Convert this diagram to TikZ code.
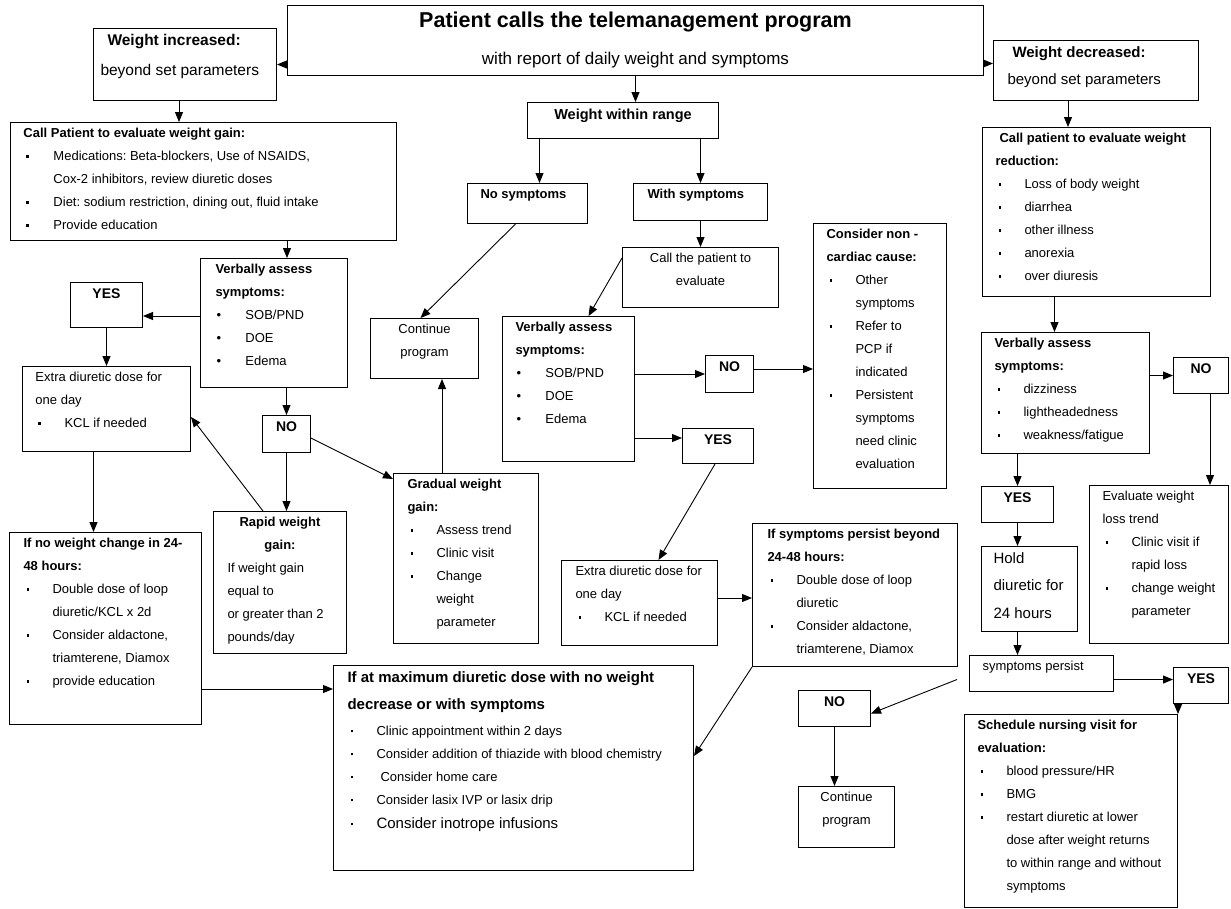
\documentclass[tikz,border=0pt]{standalone}
\usepackage{fontspec}
\setmainfont{Liberation Sans}
\usepackage{tikz}
\usetikzlibrary{arrows.meta}

\newcommand{\bul}[1][29pt]{\par\noindent\hangindent=#1\hangafter=1%
  \hbox to #1{\hskip3pt\raisebox{3.2pt}{\rule{2.6pt}{2.6pt}}\hss}\ignorespaces}
\newcommand{\rbul}[1][30pt]{\par\noindent\hangindent=#1\hangafter=1%
  \hbox to #1{\hskip1pt\textbullet\hss}\ignorespaces}
\newcommand{\yn}{\centering\fontsize{14}{23}\selectfont\bfseries}

\begin{document}
\begin{tikzpicture}[x=1pt, y=-1pt,
  box/.style 2 args={draw, line width=1pt, anchor=north west, inner sep=0pt,
    execute at begin node={\begin{minipage}[t][#2pt][t]{#1pt}%
      \raggedright\frenchspacing\leftskip=13pt\fontsize{13}{23}\selectfont\vskip6pt},
    execute at end node={\endgraf\end{minipage}}},
  arr/.style={-{Triangle[length=10pt,width=8pt]}, line width=0.9pt}
]
\useasboundingbox (0,0) rectangle (1231,908);

\node[box={696}{70}] (call) at (287,5) {\centering
  {\fontsize{21.5}{26}\selectfont\bfseries Patient calls the telemanagement program\endgraf}
  {\fontsize{17}{37.5}\selectfont with report of daily weight and symptoms\endgraf}};
\node[box={183}{72}] (incr) at (93,28) {\leftskip=7pt\fontsize{15.5}{30}\selectfont
  \hspace*{7pt}\textbf{Weight increased:}\newline beyond set parameters\endgraf};
\node[box={205}{60}] (decr) at (993,40) {\leftskip=14pt\fontsize{15}{27}\selectfont
  \hspace*{5pt}\textbf{Weight decreased:}\newline beyond set parameters\endgraf};
\node[box={191}{36}] (inrange) at (527,102) {\centering\fontsize{14.5}{23}\selectfont
  \bfseries Weight within range\endgraf};
\node[box={120}{40}] (nosym) at (467,183) {\textbf{No symptoms}};
\node[box={134}{37}] (withsym) at (633,183) {\leftskip=14pt\textbf{With symptoms}\endgraf};
\node[box={156}{60}] (calleval) at (622,247) {\centering
  Call the patient to\\ evaluate\endgraf};

\node[box={386}{118}] (gaineval) at (10,122) {%
  \textbf{Call Patient to evaluate weight gain:}
  \bul[30pt] Medications: Beta-blockers, Use of NSAIDS,\newline Cox-2 inhibitors, review diuretic doses
  \bul[30pt] Diet: sodium restriction, dining out, fluid intake
  \bul[30pt] Provide education\endgraf};
\node[box={228}{169}] (redeval) at (982,127) {%
  \textbf{\hspace*{4pt}Call patient to evaluate weight\newline reduction:}
  \bul Loss of body weight
  \bul diarrhea
  \bul other illness
  \bul anorexia
  \bul over diuresis\endgraf};

\node[box={147}{129}] (verbL) at (200,258) {\leftskip=15pt
  \textbf{Verbally assess\newline symptoms:}
  \rbul SOB/PND
  \rbul DOE
  \rbul Edema\endgraf};
\node[box={72}{45}] (yesL) at (70,282) {\yn YES\endgraf};
\node[box={168}{85}] (extraL) at (22,366) {%
  Extra diuretic dose for\newline one day
  \bul KCL if needed\endgraf};
\node[box={48}{37}] (noL) at (262,415) {\yn NO\endgraf};
\node[box={108}{60}] (contA) at (370,318) {\centering Continue\\ program\endgraf};
\node[box={145}{170}] (gradual) at (393,473) {\leftskip=14pt
  \textbf{Gradual weight\newline gain:}
  \bul Assess trend
  \bul Clinic visit
  \bul Change\newline weight\newline parameter\endgraf};
\node[box={133}{142}] (rapid) at (213,511) {%
  {\centering\bfseries Rapid weight\\ gain:\endgraf}
  \leftskip=14pt If weight gain\newline equal to\newline or greater than 2\newline pounds/day\endgraf};
\node[box={192}{192}] (nochange) at (9,532) {\leftskip=14pt
  \textbf{If no weight change in 24-\newline 48 hours:}
  \bul Double dose of loop\newline diuretic/KCL x 2d
  \bul Consider aldactone,\newline triamterene, Diamox
  \bul provide education\endgraf};
\node[box={360}{205}] (maxdose) at (333,665) {\leftskip=14pt
  {\fontsize{15}{27}\selectfont\bfseries If at maximum diuretic dose with no weight\newline
   decrease or with symptoms\endgraf}
  \vskip3pt
  \bul Clinic appointment within 2 days
  \bul Consider addition of thiazide with blood chemistry
  \bul \hspace*{4pt}Consider home care
  \bul Consider lasix IVP or lasix drip\endgraf
  {\fontsize{15}{24}\selectfont\bul Consider inotrope infusions\endgraf}};

\node[box={132}{145}] (verbC) at (502,316) {%
  \textbf{Verbally assess\newline symptoms:}
  \rbul SOB/PND
  \rbul DOE
  \rbul Edema\endgraf};
\node[box={48}{37}] (noC) at (705,355) {\yn NO\endgraf};
\node[box={71}{35}] (yesC) at (682,428) {\yn YES\endgraf};
\node[box={133}{265}] (noncard) at (813,223) {%
  \textbf{Consider non -\newline cardiac cause:}
  \bul Other\newline symptoms
  \bul Refer to\newline PCP if\newline indicated
  \bul Persistent\newline symptoms\newline need clinic\newline evaluation\endgraf};
\node[box={156}{85}] (extraC) at (561,560) {\leftskip=14pt
  Extra diuretic dose for\newline one day
  \bul KCL if needed\endgraf};
\node[box={205}{143}] (persist) at (752,523) {\leftskip=15pt
  \textbf{If symptoms persist beyond\newline 24-48 hours:}
  \bul Double dose of loop\newline diuretic
  \bul Consider aldactone,\newline triamterene, Diamox\endgraf};
\node[box={72}{36}] (noB) at (798,690) {\yn NO\endgraf};
\node[box={96}{61}] (contB) at (798,786) {\centering Continue\\ program\endgraf};

\node[box={168}{121}] (verbR) at (981,332) {%
  \textbf{Verbally assess\newline symptoms:}
  \bul dizziness
  \bul lightheadedness
  \bul weakness/fatigue\endgraf};
\node[box={55}{36}] (noR) at (1173,357) {\yn NO\endgraf};
\node[box={72}{36}] (yesR) at (981,486) {\yn YES\endgraf};
\node[box={139}{158}] (losstrend) at (1089,485) {%
  Evaluate weight\newline loss trend
  \bul Clinic visit if\newline rapid loss
  \bul change weight\newline parameter\endgraf};
\node[box={96}{85}] (hold) at (981,546) {\leftskip=12pt\fontsize{15}{27.5}\selectfont
  Hold\newline diuretic for\newline 24 hours\endgraf};
\node[box={144}{36}] (sympers) at (969,655) {symptoms persist};
\node[box={55}{36}] (yesBR) at (1173,667) {\yn YES\endgraf};
\node[box={213}{193}] (nursing) at (964,714) {%
  \textbf{Schedule nursing visit for\newline evaluation:}
  \bul blood pressure/HR
  \bul BMG
  \bul restart diuretic at lower\newline dose after weight returns\newline
       to within range and without\newline symptoms\endgraf};

\draw[arr] (call.west |- incr.east) -- (incr.east);
\draw[arr] ([yshift=7pt]call.east |- decr.west) -- ([yshift=7pt]decr.west);
\draw[arr] (call.south) -- (call.south |- inrange.north);
\draw[arr] ([xshift=-6pt]incr.south) -- ([xshift=-6pt]incr.south |- gaineval.north);
\draw[arr] ([xshift=-28pt]decr.south) -- ([xshift=-28pt]decr.south |- redeval.north);
\draw[arr] ([xshift=12pt]inrange.south -| nosym.north) -- ([xshift=12pt]nosym.north);
\draw[arr] (inrange.south -| withsym.north) -- (withsym.north);
\draw[arr] (withsym.south) -- (calleval.north);
\draw[arr] ([xshift=-12pt]nosym.south) -- ([xshift=-4pt]contA.north);
\draw[arr] ([yshift=-11pt]calleval.north west) -- ([xshift=20pt]verbC.north);
\draw[arr] ([xshift=13pt]gaineval.south -| verbL.north) -- ([xshift=13pt]verbL.north);
\draw[arr] ([xshift=-11pt]redeval.south -| verbR.north) -- ([xshift=-11pt]verbR.north);

\draw[arr] ([yshift=7pt]verbL.west) -- ([yshift=7pt]verbL.west -| yesL.east);
\draw[arr] (yesL.south) -- (yesL.south |- extraL.north);
\draw[arr] (verbL.south -| noL.north) -- (noL.north);
\draw[arr] ([yshift=-4pt]noL.east) -- ([yshift=-6pt]gradual.north west);
\draw[arr] (noL.south) -- (noL.south |- rapid.north);
\draw[arr] ([xshift=-17pt]rapid.north) -- ([yshift=-8pt]extraL.east);
\draw[arr] ([xshift=-24pt]gradual.north) -- ([xshift=-24pt]gradual.north |- contA.south);
\draw[arr] ([xshift=-13pt]extraL.south) -- ([xshift=-13pt]extraL.south |- nochange.north);
\draw[arr] ([yshift=-24pt]maxdose.north west -| nochange.east) -- ([yshift=-24pt]maxdose.north west);

\draw[arr] (verbC.east |- noC.west) -- (noC.west);
\draw[arr] ([yshift=5pt]noC.east) -- ([yshift=5pt]noC.east -| noncard.west);
\draw[arr] ([yshift=8pt]yesC.west -| verbC.east) -- ([yshift=8pt]yesC.west);
\draw[arr] ([xshift=-3pt]yesC.south) -- ([xshift=19pt]extraC.north);
\draw[arr] ([yshift=5pt]extraC.east) -- ([yshift=5pt]extraC.east -| persist.west);
\draw[arr] (persist.south west) -- ([yshift=12pt]maxdose.east);

\draw[arr] (verbR.east |- noR.west) -- (noR.west);
\draw[arr] ([xshift=9pt]noR.south) -- ([xshift=9pt]noR.south |- losstrend.north);
\draw[arr] (verbR.south -| yesR.north) -- (yesR.north);
\draw[arr] (yesR.south) -- (yesR.south |- hold.north);
\draw[arr] (hold.south -| yesR.south) -- (yesR.south |- sympers.north);
\draw[arr] ([yshift=-6pt]sympers.east) -- ([yshift=-6pt]sympers.east -| yesBR.west);
\draw[arr] ([xshift=-12pt,yshift=-6pt]sympers.west) -- ([yshift=-5pt]noB.east);
\draw[arr] (noB.south) -- (noB.south |- contB.north);
\draw[arr] (yesBR.south west -| nursing.north east) -- (nursing.north east);
\end{tikzpicture}
\end{document}
